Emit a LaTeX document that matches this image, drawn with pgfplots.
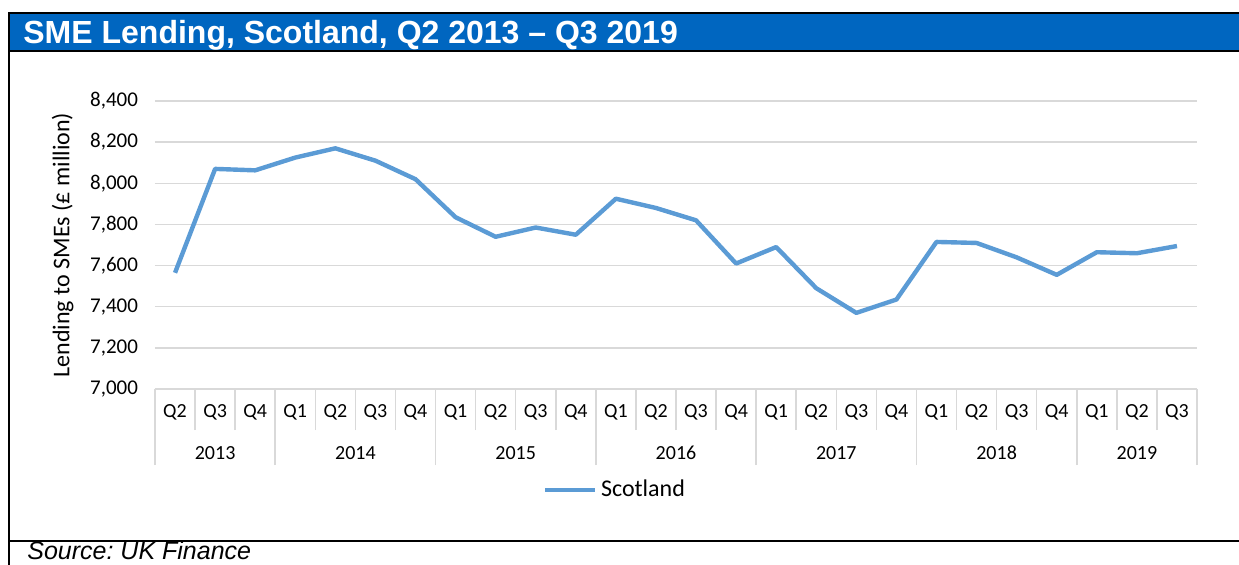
\documentclass[border=0pt]{standalone}
\usepackage{pgfplots}
\pgfplotsset{compat=1.18}
\usepackage{fontspec}
\setmainfont{Carlito}
\newfontfamily\arial{Liberation Sans}
\definecolor{titleblue}{HTML}{0066C0}
\definecolor{linecol}{HTML}{5B9BD5}
\definecolor{gridgray}{HTML}{D9D9D9}
\begin{document}
\frenchspacing
\begin{tikzpicture}
\useasboundingbox (0,0) rectangle (619.5pt,-282pt);
\clip (0,0) rectangle (619.5pt,-282pt);
% frame and title bar
\fill[titleblue] (5pt,-7pt) rectangle (620pt,-25pt);
\draw[line width=1pt] (4.5pt,-283pt) -- (4.5pt,-6.5pt) -- (621pt,-6.5pt);
\draw[line width=1pt] (4.5pt,-25.5pt) -- (621pt,-25.5pt);
\draw[line width=1pt] (4.5pt,-270.5pt) -- (621pt,-270.5pt);
\node[anchor=base west, inner sep=0, text=white, font=\arial\bfseries\fontsize{16}{18}\selectfont]
  at (11.5pt,-21.5pt) {SME Lending, Scotland, Q2 2013 – Q3 2019};
\node[anchor=base west, inner sep=0, font=\arial\itshape\fontsize{12.5}{14}\selectfont]
  at (13.5pt,-279.5pt) {Source: UK Finance};

% year level of the category axis
\begin{axis}[
    at={(77.5pt,-194.5pt)}, anchor=south west,
    scale only axis, width=521pt, height=144pt,
    xmin=-0.5, xmax=25.5, ymin=7000, ymax=8400,
    hide y axis,
    axis x line*=bottom,
    x axis line style={draw=none},
    tick align=outside,
    xtick={-0.5,2.5,6.5,10.5,14.5,18.5,22.5,25.5},
    xticklabels={},
    major tick length=38pt,
    major x tick style={gridgray, line width=0.75pt},
    extra x ticks={1,4.5,8.5,12.5,16.5,20.5,24},
    extra x tick labels={2013,2014,2015,2016,2017,2018,2019},
    extra x tick style={major tick length=0pt, major x tick style={draw=none}},
    xticklabel style={font=\fontsize{10}{12}\selectfont, yshift=-25pt},
]
\end{axis}

\begin{axis}[
    at={(77.5pt,-194.5pt)}, anchor=south west,
    scale only axis, width=521pt, height=144pt,
    xmin=-0.5, xmax=25.5, ymin=7000, ymax=8400,
    ytick={7000,7200,...,8400},
    ymajorgrids, grid style={gridgray, line width=0.75pt},
    axis x line*=bottom, axis y line*=left,
    y axis line style={draw=none},
    x axis line style={gridgray, line width=0.75pt},
    ytick style={draw=none},
    tick align=outside,
    major tick length=0pt,
    xtick={0,...,25},
    xticklabels={Q2,Q3,Q4,Q1,Q2,Q3,Q4,Q1,Q2,Q3,Q4,Q1,Q2,Q3,Q4,Q1,Q2,Q3,Q4,Q1,Q2,Q3,Q4,Q1,Q2,Q3},
    major x tick style={draw=none},
    minor xtick={-0.5,0.5,...,25.5},
    minor tick length=20.5pt,
    minor x tick style={gridgray, line width=0.75pt},
    xticklabel style={font=\fontsize{10}{12}\selectfont, yshift=-4pt},
    yticklabel style={font=\fontsize{10.5}{12}\selectfont, xshift=-5pt},
    /pgf/number format/assume math mode=true,
    /pgf/number format/1000 sep={,},
    ylabel={Lending to SMEs (£ million)},
    ylabel style={font=\fontsize{12}{14}\selectfont, yshift=1.5pt},
    legend style={at={(0.4424,-0.351)}, anchor=center, draw=none, fill=none,
      font=\fontsize{12}{14}\selectfont, inner sep=0pt},
    legend image code/.code={\draw[line width=2pt] (0pt,0pt) -- (25pt,0pt);},
]
\addplot[linecol, line width=2.2pt, line join=round] coordinates {
(0,7565) (1,8070) (2,8063) (3,8125) (4,8170) (5,8110) (6,8020)
(7,7835) (8,7740) (9,7785) (10,7750)
(11,7925) (12,7880) (13,7820) (14,7610)
(15,7690) (16,7490) (17,7370) (18,7435)
(19,7715) (20,7710) (21,7640) (22,7555)
(23,7665) (24,7660) (25,7695)
};
\legend{Scotland}
\end{axis}
\end{tikzpicture}
\end{document}
